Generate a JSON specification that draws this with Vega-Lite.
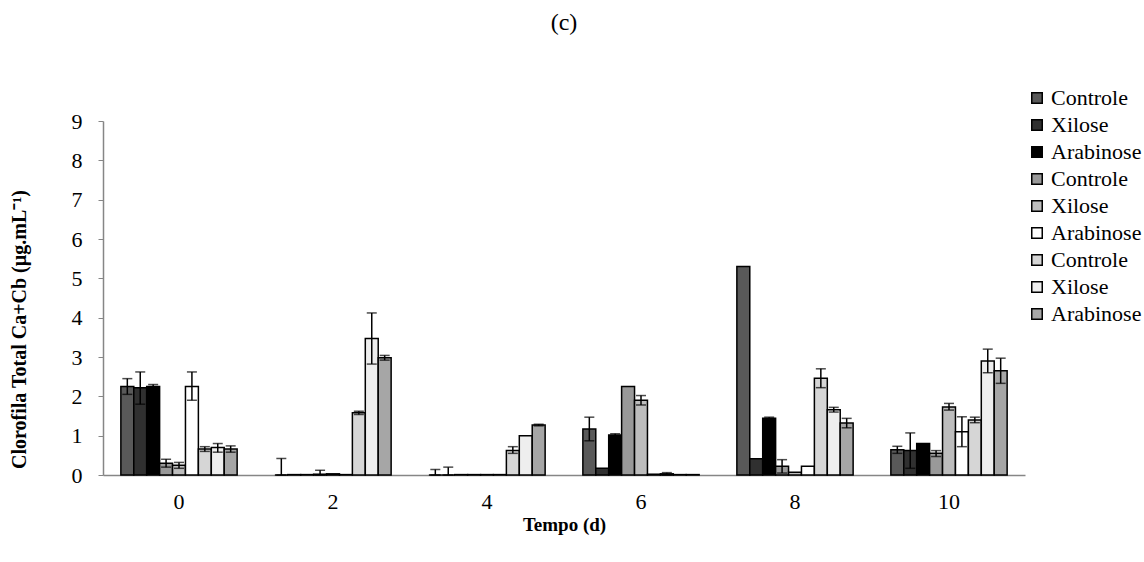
{
  "$schema": "https://vega.github.io/schema/vega-lite/v6.json",
  "width": 922,
  "height": 354,
  "autosize": "none",
  "padding": {"left": 103, "top": 121, "right": 119, "bottom": 87},
  "background": "white",
  "config": {"view": {"stroke": null}, "font": "Liberation Serif",
    "axisY": {"values": [0, 1, 2, 3, 4, 5, 6, 7, 8, 9], "labelOverlap": false, "grid": false, "tickSize": 5, "tickColor": "#868686", "domainColor": "#868686", "domainWidth": 1.5,
      "labelFontSize": 22, "labelColor": "black", "labelPadding": 16, "titleFontSize": 20, "titleFontWeight": "bold", "titleColor": "black",
      "titleX": -74, "titleY": 208, "titleBaseline": "bottom"}},
  "title": {"text": "(c)", "fontSize": 24, "fontWeight": "normal", "font": "Liberation Serif", "color": "black", "offset": 52, "anchor": "middle"},
  "data": {"values": [
    {"t": "0", "s": "s1", "v": 2.25, "lo": 2.05, "hi": 2.45},
    {"t": "0", "s": "s2", "v": 2.22, "lo": 1.8, "hi": 2.62},
    {"t": "0", "s": "s3", "v": 2.25, "lo": 2.2, "hi": 2.3},
    {"t": "0", "s": "s4", "v": 0.3, "lo": 0.2, "hi": 0.4},
    {"t": "0", "s": "s5", "v": 0.25, "lo": 0.17, "hi": 0.32},
    {"t": "0", "s": "s6", "v": 2.25, "lo": 1.9, "hi": 2.62},
    {"t": "0", "s": "s7", "v": 0.66, "lo": 0.6, "hi": 0.72},
    {"t": "0", "s": "s8", "v": 0.7, "lo": 0.58, "hi": 0.8},
    {"t": "0", "s": "s9", "v": 0.66, "lo": 0.58, "hi": 0.74},
    {"t": "2", "s": "s1", "v": 0, "lo": 0, "hi": 0.42},
    {"t": "2", "s": "s2", "v": 0.01},
    {"t": "2", "s": "s3", "v": 0.01},
    {"t": "2", "s": "s4", "v": 0.02, "lo": 0, "hi": 0.12},
    {"t": "2", "s": "s5", "v": 0.03},
    {"t": "2", "s": "s6", "v": 0.01},
    {"t": "2", "s": "s7", "v": 1.58, "lo": 1.54, "hi": 1.62},
    {"t": "2", "s": "s8", "v": 3.47, "lo": 2.82, "hi": 4.12},
    {"t": "2", "s": "s9", "v": 2.98, "lo": 2.92, "hi": 3.04},
    {"t": "4", "s": "s1", "v": 0, "lo": 0, "hi": 0.14},
    {"t": "4", "s": "s2", "v": 0, "lo": 0, "hi": 0.2},
    {"t": "4", "s": "s3", "v": 0.01},
    {"t": "4", "s": "s4", "v": 0.01},
    {"t": "4", "s": "s5", "v": 0.01},
    {"t": "4", "s": "s6", "v": 0.01},
    {"t": "4", "s": "s7", "v": 0.62, "lo": 0.55, "hi": 0.72},
    {"t": "4", "s": "s8", "v": 1.0},
    {"t": "4", "s": "s9", "v": 1.27, "lo": 1.25, "hi": 1.29},
    {"t": "6", "s": "s1", "v": 1.17, "lo": 0.87, "hi": 1.47},
    {"t": "6", "s": "s2", "v": 0.17},
    {"t": "6", "s": "s3", "v": 1.02, "lo": 0.99, "hi": 1.05},
    {"t": "6", "s": "s4", "v": 2.25},
    {"t": "6", "s": "s5", "v": 1.9, "lo": 1.78, "hi": 2.02},
    {"t": "6", "s": "s6", "v": 0.02},
    {"t": "6", "s": "s7", "v": 0.03, "lo": 0, "hi": 0.06},
    {"t": "6", "s": "s8", "v": 0.01},
    {"t": "6", "s": "s9", "v": 0.01},
    {"t": "8", "s": "s1", "v": 5.3},
    {"t": "8", "s": "s2", "v": 0.41},
    {"t": "8", "s": "s3", "v": 1.44, "lo": 1.4, "hi": 1.47},
    {"t": "8", "s": "s4", "v": 0.22, "lo": 0.05, "hi": 0.39},
    {"t": "8", "s": "s5", "v": 0.07},
    {"t": "8", "s": "s6", "v": 0.22},
    {"t": "8", "s": "s7", "v": 2.46, "lo": 2.22, "hi": 2.7},
    {"t": "8", "s": "s8", "v": 1.66, "lo": 1.6, "hi": 1.72},
    {"t": "8", "s": "s9", "v": 1.32, "lo": 1.2, "hi": 1.44},
    {"t": "10", "s": "s1", "v": 0.64, "lo": 0.55, "hi": 0.73},
    {"t": "10", "s": "s2", "v": 0.62, "lo": 0.17, "hi": 1.07},
    {"t": "10", "s": "s3", "v": 0.8},
    {"t": "10", "s": "s4", "v": 0.55, "lo": 0.47, "hi": 0.62},
    {"t": "10", "s": "s5", "v": 1.73, "lo": 1.65, "hi": 1.82},
    {"t": "10", "s": "s6", "v": 1.1, "lo": 0.72, "hi": 1.48},
    {"t": "10", "s": "s7", "v": 1.4, "lo": 1.33, "hi": 1.47},
    {"t": "10", "s": "s8", "v": 2.9, "lo": 2.6, "hi": 3.2},
    {"t": "10", "s": "s9", "v": 2.65, "lo": 2.33, "hi": 2.97}
  ]},
  "encoding": {
    "x": {"field": "t", "type": "nominal", "sort": ["0", "2", "4", "6", "8", "10"],
      "scale": {"paddingInner": 0.245, "paddingOuter": 0.116},
      "title": "Tempo (d)",
      "axis": {"labelAngle": 0, "labelFontSize": 22, "labelColor": "black", "labelPadding": 16, "ticks": false,
        "domainColor": "#868686", "domainWidth": 1.5, "titleFontSize": 19, "titleFontWeight": "bold", "titleColor": "black", "titlePadding": 3}},
    "xOffset": {"field": "s", "type": "nominal", "sort": ["s1", "s2", "s3", "s4", "s5", "s6", "s7", "s8", "s9"]}
  },
  "layer": [
    {"mark": {"type": "bar", "stroke": "black", "strokeWidth": 1.5},
     "encoding": {
       "y": {"field": "v", "type": "quantitative", "scale": {"domain": [0, 9], "nice": false},
         "title": "Clorofila Total Ca+Cb (µg.mL⁻¹)"},
       "fill": {"field": "s", "type": "nominal",
         "scale": {"domain": ["s1", "s2", "s3", "s4", "s5", "s6", "s7", "s8", "s9"],
           "range": ["#595959", "#303030", "#000000", "#999999", "#bdbdbd", "#ffffff", "#d6d6d6", "#eeeeee", "#a6a6a6"]},
         "legend": {"orient": "none", "legendX": 923, "legendY": -34, "title": null, "symbolType": "square", "symbolSize": 110,
           "symbolStrokeColor": "black", "symbolStrokeWidth": 1.5, "labelFontSize": 22, "labelColor": "black", "rowPadding": 5, "labelOffset": 3,
           "labelExpr": "['Controle','Xilose','Arabinose'][(parseInt(slice(datum.label,1))-1)%3]"}}
     }},
    {"transform": [{"filter": "isValid(datum.hi)"}],
     "mark": {"type": "rule", "color": "black", "strokeWidth": 1.5},
     "encoding": {"y": {"field": "lo", "type": "quantitative", "title": "Clorofila Total Ca+Cb (µg.mL⁻¹)"}, "y2": {"field": "hi"}}},
    {"transform": [{"filter": "isValid(datum.hi)"}],
     "mark": {"type": "tick", "color": "black", "thickness": 1.5, "size": 10},
     "encoding": {"y": {"field": "hi", "type": "quantitative", "title": "Clorofila Total Ca+Cb (µg.mL⁻¹)"}}},
    {"transform": [{"filter": "isValid(datum.hi)"}],
     "mark": {"type": "tick", "color": "black", "thickness": 1.5, "size": 10},
     "encoding": {"y": {"field": "lo", "type": "quantitative", "title": "Clorofila Total Ca+Cb (µg.mL⁻¹)"}}}
  ]
}
